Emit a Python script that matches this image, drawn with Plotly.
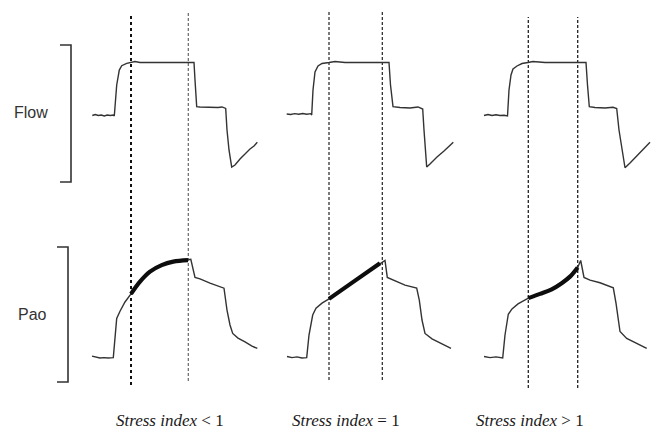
import plotly.graph_objects as go

# ---------------- data (time in ms from start of inspiratory flow) ----------------
labels = ["<i>Stress index</i> &lt; 1", "<i>Stress index</i> = 1", "<i>Stress index</i> &gt; 1"]
row_labels = ["Flow", "Pao"]

# Flow (L/min)
flow1_t = [-220, -190, -160, -130, -100, -70, -40, -10, 0, 24, 50, 74, 124, 167, 207, 257, 357, 457, 557, 657,
           757, 797, 807, 824, 857, 957, 1037, 1077, 1114, 1127, 1147, 1174, 1207, 1257, 1307, 1357, 1397, 1430]
flow1 = [-0.6, 0.6, -0.6, 0, -1.1, 0, -0.6, 0, -1.1, 34.0, 50.9, 55.8, 58.5, 59.4, 60.6, 59.4, 59.4, 59.4, 59.6, 59.4,
         59.4, 59.4, 39.6, 9.4, 9.1, 8.5, 8.5, 9.1, 7.4, -17.0, -39.6, -58.9, -56.6, -49.8, -44.1, -38.5, -35.1, -30.9]

flow2_t = [-250, -210, -170, -130, -90, -50, -10, 0, 13, 33, 63, 103, 173, 233, 333, 483, 633, 773, 788, 813,
           883, 983, 1063, 1110, 1123, 1138, 1150, 1183, 1253, 1323, 1373, 1416]
flow2 = [1.1, 0.6, 1.5, 0.8, 1.7, 0.8, 1.5, 0, 28.3, 48.7, 55.5, 58.3, 59.4, 60.6, 59.4, 59.4, 59.6, 59.4, 34.0, 9.4,
         8.5, 7.9, 9.1, 6.8, -17.0, -39.6, -58.9, -55.5, -47.5, -40.8, -35.1, -30.9]

flow3_t = [-235, -195, -155, -115, -75, -35, 0, 15, 35, 55, 95, 145, 205, 255, 375, 525, 675, 785, 800, 818,
           875, 975, 1055, 1092, 1115, 1145, 1175, 1225, 1295, 1365, 1425]
flow3 = [-0.6, 0.6, -0.6, 0.2, -0.6, -0.3, -1.1, 28.3, 45.3, 52.1, 55.5, 58.3, 59.4, 60.6, 59.4, 59.4, 59.4, 59.4, 34.0, 9.4,
         8.5, 7.9, 8.7, 7.4, -17.0, -39.6, -59.7, -54.3, -46.4, -38.5, -30.9]

# Airway opening pressure (cmH2O)
pao1_t = [-223, -183, -143, -103, -63, -10, 7, 24, 57, 107, 167, 257, 357, 474, 590, 737, 765, 807, 857, 957,
          1037, 1097, 1127, 1157, 1184, 1237, 1307, 1377, 1430]
pao1 = [5.1, 4.9, 4.6, 4.7, 4.6, 4.7, 10.6, 14.9, 16.8, 19.2, 21.3, 24.5, 27.1, 28.8, 29.7, 30.1, 30.3, 25.6, 25.2, 24.1,
        23.4, 22.8, 17.1, 13.2, 11.0, 9.8, 8.8, 7.7, 7.1]

pao2_t = [-247, -197, -147, -97, -50, -27, 10, 43, 103, 173, 430, 683, 733, 756, 833, 933, 1050, 1076, 1103, 1133,
          1203, 1283, 1393]
pao2 = [5.0, 4.7, 4.9, 4.6, 4.7, 10.6, 15.8, 17.6, 18.9, 20.0, 24.7, 29.3, 30.0, 25.6, 24.7, 23.6, 22.8, 19.7, 14.5, 11.0,
        9.6, 8.5, 7.1]

pao3_t = [-235, -175, -115, -48, -25, 8, 45, 105, 208, 325, 442, 542, 625, 702, 732, 765, 825, 925, 1058, 1085,
          1108, 1125, 1192, 1292, 1392]
pao3 = [5.0, 4.7, 4.9, 4.6, 10.6, 16.0, 17.4, 18.7, 20.2, 21.3, 22.5, 24.1, 25.8, 28.2, 30.0, 25.6, 24.9, 24.2, 22.9, 18.9,
        14.5, 11.5, 9.7, 8.3, 7.1]

# cursor times (ms) delimiting the constant-flow analysis window
cursor1 = [167, 740]
cursor2 = [173, 706]
cursor3 = [208, 702]

panels = [
    (flow1_t, flow1, pao1_t, pao1, cursor1),
    (flow2_t, flow2, pao2_t, pao2, cursor2),
    (flow3_t, flow3, pao3_t, pao3, cursor3),
]

# ---------------- layout constants (pixels) ----------------
W, H = 652, 430
PX_PER_MS = 0.1
RISE_PX = [114.3, 311.7, 507.5]
COL_PX = [(84, 274), (280, 470), (476, 652)]
FLOW_PER_PX = 60 / 53
FLOW_ZERO_PX = 115
FLOW_DOM_PX = (10, 190)
PAO_PER_PX = 25 / 96
PAO_REF, PAO_REF_PX = 5, 356.5
PAO_DOM_PX = (220, 400)
CURSOR_PX = [[(13, 385), (13, 381)], [(12, 380), (12, 380)], [(17, 388), (17, 388)]]
CURSOR_STYLE = [
    [dict(color="#111111", width=2, dash="dot"), dict(color="#666666", width=1.2, dash="3px,2px")],
    [dict(color="#222222", width=1.2, dash="3px,2px"), dict(color="#222222", width=1.2, dash="3px,2px")],
    [dict(color="#222222", width=1.3, dash="3px,2px"), dict(color="#222222", width=1.3, dash="3px,2px")],
]


def ppx(px):
    return px / W


def ppy(py):
    return 1 - py / H


fig = go.Figure()
shapes = []
layout_axes = {}

for i, (ft, fv, pt, pv, cur) in enumerate(panels):
    xa = "x" if i == 0 else f"x{i + 1}"
    xkey = "xaxis" if i == 0 else f"xaxis{i + 1}"
    L, R = COL_PX[i]
    layout_axes[xkey] = dict(
        domain=[ppx(L), ppx(R)],
        range=[(L - RISE_PX[i]) / PX_PER_MS, (R - RISE_PX[i]) / PX_PER_MS],
        visible=False, anchor="y",
    )
    thin = dict(color="#333333", width=1.4)
    fig.add_trace(go.Scatter(x=ft, y=fv, mode="lines", line=thin, xaxis=xa, yaxis="y", hoverinfo="skip"))
    fig.add_trace(go.Scatter(x=pt, y=pv, mode="lines", line=thin, xaxis=xa, yaxis="y2", hoverinfo="skip"))
    bt = [t for t in pt if cur[0] <= t <= cur[1]]
    bv = [v for t, v in zip(pt, pv) if cur[0] <= t <= cur[1]]
    fig.add_trace(go.Scatter(x=bt, y=bv, mode="lines", line=dict(color="#0d0d0d", width=4.2, shape="spline"),
                             xaxis=xa, yaxis="y2", hoverinfo="skip"))
    for k, t in enumerate(cur):
        top, bot = CURSOR_PX[i][k]
        shapes.append(dict(type="line", xref=xa, yref="paper", x0=t, x1=t, y0=ppy(bot), y1=ppy(top),
                           line=CURSOR_STYLE[i][k], layer="below"))

# brackets
for (vx, tx, top, bot) in [(71, 60, 45, 182), (68, 57, 247, 382)]:
    shapes.append(dict(type="path", xref="paper", yref="paper",
                       path=f"M {ppx(tx)},{ppy(top)} L {ppx(vx)},{ppy(top)} L {ppx(vx)},{ppy(bot)} L {ppx(tx)},{ppy(bot)}",
                       line=dict(color="#333333", width=1.6)))

annotations = []
for txt, (x, y) in zip(row_labels, [(30.5, 112), (32.5, 314)]):
    annotations.append(dict(text=txt, x=ppx(x), y=ppy(y), xref="paper", yref="paper", showarrow=False,
                            xanchor="center", yanchor="middle",
                            font=dict(family="Liberation Sans, Arial", size=16, color="#333333")))
for txt, x in zip(labels, [170, 345.5, 529.5]):
    annotations.append(dict(text=txt, x=ppx(x), y=ppy(420), xref="paper", yref="paper", showarrow=False,
                            xanchor="center", yanchor="middle",
                            font=dict(family="Liberation Serif, Times New Roman", size=17, color="#1a1a1a")))

fig.update_layout(
    width=W, height=H, margin=dict(l=0, r=0, t=0, b=0),
    paper_bgcolor="white", plot_bgcolor="white", showlegend=False,
    yaxis=dict(domain=[ppy(FLOW_DOM_PX[1]), ppy(FLOW_DOM_PX[0])],
               range=[(FLOW_ZERO_PX - FLOW_DOM_PX[1]) * FLOW_PER_PX, (FLOW_ZERO_PX - FLOW_DOM_PX[0]) * FLOW_PER_PX],
               visible=False, anchor="x"),
    yaxis2=dict(domain=[ppy(PAO_DOM_PX[1]), ppy(PAO_DOM_PX[0])],
                range=[PAO_REF + (PAO_REF_PX - PAO_DOM_PX[1]) * PAO_PER_PX, PAO_REF + (PAO_REF_PX - PAO_DOM_PX[0]) * PAO_PER_PX],
                visible=False, anchor="x"),
    shapes=shapes, annotations=annotations,
    **layout_axes,
)

fig.write_html("out.html", config={"displayModeBar": False},
               post_script="document.body.style.margin='0';document.body.style.overflow='hidden';")
